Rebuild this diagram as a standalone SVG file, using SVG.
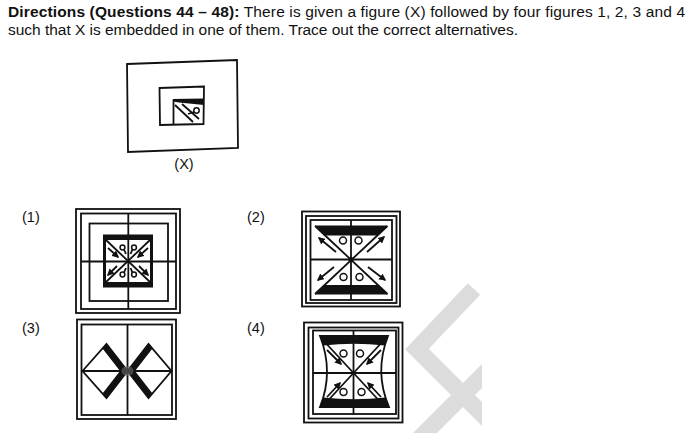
<svg xmlns="http://www.w3.org/2000/svg" width="694" height="433" viewBox="0 0 694 433">
<style>
.t{font-family:"Liberation Sans",Arial,sans-serif;font-size:15.5px;fill:#111}
.l{font-family:"Liberation Sans",Arial,sans-serif;font-size:14.5px;fill:#111}
.s{fill:none;stroke:#111;stroke-width:1.8}
.b{fill:#111;stroke:none}
.c{fill:#fff;stroke:#111;stroke-width:1.5}
.wm{fill:none;stroke:#dcdcdc;stroke-width:17;stroke-linecap:butt;stroke-linejoin:miter}
</style>
<defs>
<marker id="ah" viewBox="0 0 10 10" refX="8" refY="5" markerWidth="4" markerHeight="4" orient="auto"><path d="M0,0 L10,5 L0,10 Z" fill="#111"/></marker>
<clipPath id="wmclip"><rect x="0" y="0" width="482" height="433"/></clipPath>
</defs>
<rect width="694" height="433" fill="#fff"/>
<!-- watermark -->
<g id="watermark" clip-path="url(#wmclip)">
<polyline class="wm" points="474,289 417,349 490,422"/>
<line class="wm" x1="492" y1="366" x2="405" y2="453"/>
</g>
<!-- heading -->
<text class="t" x="8" y="17" textLength="677" lengthAdjust="spacing"><tspan font-weight="bold">Directions (Questions 44 – 48):</tspan> There is given a figure (X) followed by four figures 1, 2, 3 and 4</text>
<text class="t" x="8" y="35" textLength="510" lengthAdjust="spacing">such that X is embedded in one of them. Trace out the correct alternatives.</text>
<!-- Figure X -->
<g id="figX">
<polygon class="s" stroke-width="2" points="127,64 237,60 238,148 128,152"/>
<polygon class="s" stroke-width="2" points="159.5,88 204,86.5 203.5,124 160,125"/>
<line class="s" x1="173.5" y1="99.5" x2="173.5" y2="124.5"/>
<polygon class="b" points="173,99 204,98.5 204,105 179,102.5 173,101.5"/>
<line class="s" x1="175" y1="105" x2="193" y2="122"/>
<line class="s" x1="182" y1="104" x2="199" y2="119"/>
<circle class="c" cx="196.5" cy="110.5" r="2.7"/>
<line class="s" stroke-width="1.3" x1="194" y1="112" x2="188" y2="114"/>
<text class="l" x="184" y="169" font-size="15.5" text-anchor="middle">(X)</text>
</g>
<!-- labels -->
<text class="l" x="22" y="222">(1)</text>
<text class="l" x="247" y="222">(2)</text>
<text class="l" x="22" y="333">(3)</text>
<text class="l" x="247" y="333">(4)</text>
<!-- Figure 1 -->
<g id="fig1">
<rect class="s" stroke-width="2" x="76" y="209" width="104" height="104"/>
<rect class="s" x="81" y="213.5" width="95" height="95.5"/>
<rect class="s" x="89.5" y="223.5" width="78.5" height="77.5"/>
<rect class="b" x="103" y="234.5" width="50" height="53"/>
<rect fill="#fff" x="106" y="240" width="44" height="42"/>
<line class="s" x1="106" y1="240" x2="150" y2="282"/>
<line class="s" x1="150" y1="240" x2="106" y2="282"/>
<line class="s" x1="128.3" y1="213.5" x2="128.3" y2="309"/>
<line class="s" x1="81" y1="261.5" x2="176" y2="261.5"/>
<circle class="c" cx="122.5" cy="247.5" r="2.4"/>
<circle class="c" cx="134" cy="247.5" r="2.4"/>
<circle class="c" cx="122.5" cy="274.5" r="2.4"/>
<circle class="c" cx="134" cy="274.5" r="2.4"/>
<line class="s" stroke-width="1.3" x1="108" y1="248" x2="118" y2="257" marker-end="url(#ah)"/>
<line class="s" stroke-width="1.3" x1="148" y1="248" x2="138" y2="257" marker-end="url(#ah)"/>
<line class="s" stroke-width="1.3" x1="117" y1="266" x2="108" y2="275" marker-end="url(#ah)"/>
<line class="s" stroke-width="1.3" x1="139" y1="266" x2="148" y2="275" marker-end="url(#ah)"/>
<line class="s" stroke-width="1.2" x1="124" y1="249.5" x2="126" y2="254"/>
<line class="s" stroke-width="1.2" x1="132.5" y1="249.5" x2="130.5" y2="254"/>
<line class="s" stroke-width="1.2" x1="124" y1="272.5" x2="126" y2="268"/>
<line class="s" stroke-width="1.2" x1="132.5" y1="272.5" x2="130.5" y2="268"/>
</g>
<!-- Figure 2 -->
<g id="fig2">
<rect class="s" stroke-width="2" x="302" y="211.5" width="98" height="95"/>
<rect class="s" x="306" y="216" width="90.5" height="87"/>
<rect class="s" x="310.5" y="220" width="81.5" height="80"/>
<polygon class="b" points="315,225.5 387.5,225.5 377.5,235.5 324.5,235.5"/>
<polygon class="b" points="315,294.5 388,294.5 378,285 325,285"/>
<line class="s" x1="315" y1="226" x2="387.5" y2="294"/>
<line class="s" x1="387.5" y1="226" x2="315" y2="294"/>
<line class="s" x1="351" y1="220" x2="351" y2="300"/>
<line class="s" x1="310.5" y1="259.5" x2="392" y2="259.5"/>
<circle class="b" cx="351" cy="259.5" r="2.6"/>
<circle class="c" cx="343" cy="240.5" r="3.5"/>
<circle class="c" cx="358.5" cy="240.5" r="3.5"/>
<circle class="c" cx="343.5" cy="277" r="3.5"/>
<circle class="c" cx="359.5" cy="277" r="3.5"/>
<line class="s" stroke-width="1.6" x1="336" y1="252" x2="319" y2="238" marker-end="url(#ah)"/>
<line class="s" stroke-width="1.6" x1="367" y1="252" x2="384" y2="237" marker-end="url(#ah)"/>
<line class="s" stroke-width="1.6" x1="334" y1="267" x2="318" y2="280" marker-end="url(#ah)"/>
<line class="s" stroke-width="1.6" x1="368" y1="267" x2="385" y2="280" marker-end="url(#ah)"/>
</g>
<!-- Figure 3 -->
<g id="fig3">
<rect class="s" stroke-width="2" x="77" y="319.5" width="99" height="99.5"/>
<rect class="s" x="81.5" y="324.5" width="90.5" height="90.5"/>
<line class="s" x1="127.5" y1="324.5" x2="127.5" y2="415"/>
<line class="s" x1="81.5" y1="371" x2="172" y2="371"/>
<polygon class="s" points="82.5,371 106.5,344 127.5,371 106.5,398"/>
<polygon class="s" points="127.5,371 148.5,344 171.5,371 148.5,398"/>
<polygon class="b" points="106.5,344 127.5,371 106.5,398 102.5,393.5 120,371 102.5,348.5"/>
<polygon class="b" points="148.5,344 127.5,371 148.5,398 152.5,393.5 135,371 152.5,348.5"/>
<ellipse cx="127.5" cy="371" rx="6" ry="5" fill="#6a6a6a" opacity="0.6"/>
</g>
<!-- Figure 4 -->
<g id="fig4">
<rect class="s" stroke-width="2" x="304" y="322.5" width="98.5" height="100"/>
<rect class="s" x="308.5" y="327.5" width="90" height="91"/>
<rect class="s" x="313" y="330.5" width="83" height="83.5"/>
<path class="b" d="M320,336 L388,336 L385,345.5 Q354,342 323,345.5 Z"/>
<path class="b" d="M320,407 L389,407 L386,397.5 Q354,401 323,397.5 Z"/>
<path class="s" d="M320,336 L388,336 Q374,372 389,407 L320,407 Q334,372 320,336 Z"/>
<line class="s" x1="322" y1="339" x2="385" y2="407"/>
<line class="s" x1="385" y1="339" x2="322" y2="407"/>
<line class="s" x1="353.5" y1="330.5" x2="353.5" y2="414"/>
<line class="s" x1="313" y1="373" x2="396" y2="373"/>
<circle class="c" cx="343.5" cy="353.5" r="3.5"/>
<circle class="c" cx="360" cy="353.5" r="3.5"/>
<circle class="c" cx="343.5" cy="392" r="3.5"/>
<circle class="c" cx="361.5" cy="392" r="3.5"/>
<line class="s" stroke-width="1.6" x1="327" y1="350" x2="341" y2="364" marker-end="url(#ah)"/>
<line class="s" stroke-width="1.6" x1="381" y1="350" x2="367" y2="364" marker-end="url(#ah)"/>
<line class="s" stroke-width="1.6" x1="327" y1="397" x2="340" y2="383" marker-end="url(#ah)"/>
<line class="s" stroke-width="1.6" x1="381" y1="397" x2="368" y2="383" marker-end="url(#ah)"/>
</g>
</svg>
